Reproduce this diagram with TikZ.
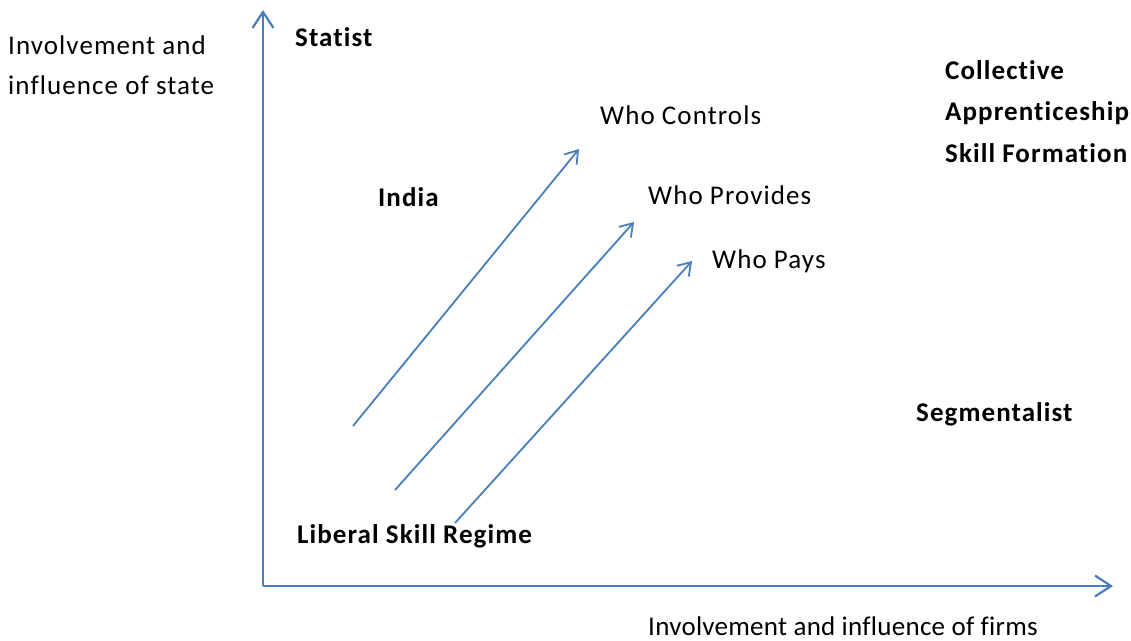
\documentclass[tikz,border=0pt]{standalone}
\usepackage{fontspec}
\setmainfont{Carlito}[Ligatures={NoCommon},LetterSpace=4]
\newfontfamily\xlabfont{Carlito}[Ligatures={NoCommon},LetterSpace=1]
\usetikzlibrary{arrows.meta}
\definecolor{lineblue}{HTML}{4A7EBB}
\begin{document}
\begin{tikzpicture}[x=1pt,y=-1pt,
  axis/.style={draw=lineblue,line width=2.6pt,-{Straight Barb[length=16pt,width=21pt,line width=2.2pt]}},
  diag/.style={draw=lineblue,line width=1.8pt,-{Straight Barb[length=12pt,width=16pt,line width=1.8pt]}},
  lab/.style={anchor=base west,inner sep=0pt,font=\fontsize{27}{30}\selectfont},
  blab/.style={lab,font=\fontsize{27}{30}\selectfont\bfseries}]
\useasboundingbox (0,0) rectangle (1131,640);
\coordinate (o) at (263,586);
\coordinate (ytop) at (263,10);
\coordinate (xend) at (1113,586);
\draw[axis] (o) -- (ytop);
\draw[axis] (o) -- (xend);
\coordinate (a1s) at (353,426); \coordinate (a1e) at (579,149);
\coordinate (a2s) at (395,490); \coordinate (a2e) at (634,222);
\coordinate (a3s) at (455,523); \coordinate (a3e) at (692,261);
\draw[diag] (a1s) -- (a1e);
\draw[diag] (a2s) -- (a2e);
\draw[diag] (a3s) -- (a3e);
\node[lab] (yl1) at (8,54) {Involvement and};
\node[lab] (yl2) at (8,94) {influence of state};
\node[blab] (statist) at (295,46) {Statist};
\node[blab] (coll1) at (945,79) {Collective};
\node[blab] (coll2) at (945,120) {Apprenticeship};
\node[blab] (coll3) at (945,162) {Skill Formation};
\node[lab] (wc) at (600,124) {Who Controls};
\node[blab] (india) at (378,206) {India};
\node[lab] (wpr) at (648,204) {Who Provides};
\node[lab] (wpa) at (712,268) {Who Pays};
\node[blab] (seg) at (916,421) {Segmentalist};
\node[blab] (lib) at (297,543) {Liberal Skill Regime};
\node[lab,font=\fontsize{27}{30}\xlabfont] (xl) at (648,635) {Involvement and influence of firms};
\end{tikzpicture}
\end{document}
